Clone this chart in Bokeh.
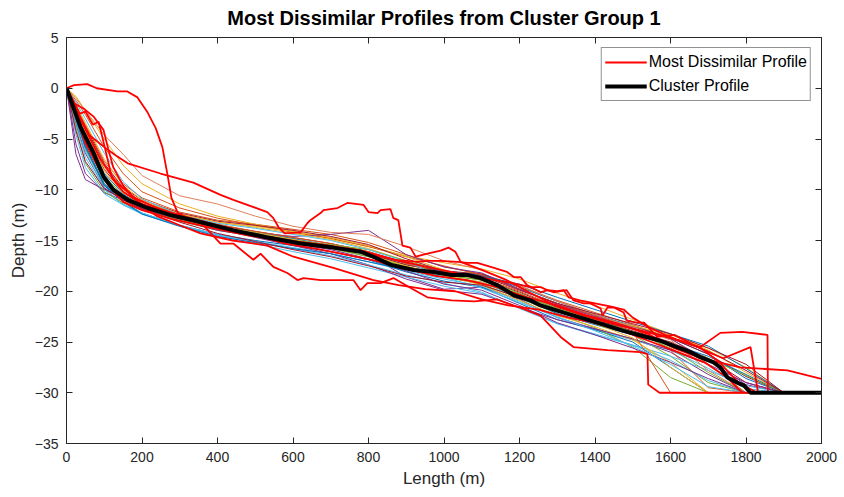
from bokeh.plotting import figure
from bokeh.models import LinearAxis, Range1d, FixedTicker, Legend, LegendItem
from bokeh.embed import file_html
from bokeh.resources import INLINE

# ---------------- data ----------------
x_ticks = [0, 200, 400, 600, 800, 1000, 1200, 1400, 1600, 1800, 2000]
y_ticks = [-35, -30, -25, -20, -15, -10, -5, 0, 5]

cluster_len = [0, 37, 72, 98, 124, 162, 215, 276, 336, 442, 532, 620, 707, 779, 813, 860, 920, 972,
               1020, 1062, 1097, 1141, 1185, 1229, 1256, 1317, 1388, 1476, 1566, 1653, 1679, 1714,
               1732, 1751, 1777, 1795, 1812, 2000]
cluster_depth = [0, -3.8, -6.4, -8.7, -10.0, -11.0, -11.8, -12.5, -13.0, -14.0, -14.7, -15.3, -15.7,
                 -16.1, -16.6, -17.4, -17.9, -18.1, -18.4, -18.4, -18.7, -19.4, -20.4, -20.9, -21.4,
                 -22.1, -22.9, -23.9, -24.8, -26.0, -26.5, -27.0, -27.5, -28.5, -29.0, -29.3, -30, -30]

# thin member profiles (shared length grid)
thin_len = [0, 25, 50, 100, 150, 200, 300, 400, 500, 600, 700, 800, 900, 1000, 1100, 1200, 1300,
            1400, 1500, 1600, 1700, 1800, 1900]
thin_01 = [0, -3.0, -5.6, -9.4, -11.0, -11.9, -13.0, -13.9, -14.5, -15.1, -15.6, -16.3, -17.4, -18.0, -18.4, -19.6, -21.0, -22.3, -23.4, -24.6, -26.2, -28.6, -30]
thin_02 = [0, -1.8, -3.6, -7.2, -9.4, -10.8, -12.2, -13.0, -13.4, -13.9, -14.4, -15.2, -16.4, -17.6, -18.3, -19.5, -20.9, -22.1, -23.3, -24.6, -27.2, -30, -30]
thin_03 = [0, -0.8, -2.2, -5.0, -7.6, -9.4, -11.4, -12.6, -13.4, -14.1, -14.8, -15.6, -16.5, -17.2, -17.8, -18.8, -20.2, -21.4, -22.8, -24.2, -25.8, -28.0, -30]
thin_04 = [0, -6.5, -9.0, -10.0, -10.6, -11.2, -12.4, -13.4, -14.2, -15.0, -15.6, -16.4, -18.6, -19.8, -19.6, -20.8, -22.6, -23.7, -24.7, -26.0, -28.2, -30, -30]
thin_05 = [0, -3.2, -6.0, -9.6, -11.0, -11.8, -12.9, -13.7, -14.3, -14.9, -15.5, -16.4, -17.6, -18.4, -18.9, -20.4, -22.0, -23.1, -24.3, -26.4, -29.0, -30, -30]
thin_06 = [0, -3.6, -6.8, -10.0, -11.5, -12.4, -13.6, -14.5, -15.1, -15.7, -16.3, -17.1, -18.0, -18.8, -19.5, -21.0, -22.6, -23.8, -24.8, -25.8, -27.6, -29.6, -30]
thin_07 = [0, -2.4, -4.4, -8.0, -10.2, -11.4, -12.6, -13.5, -14.1, -14.7, -15.3, -16.1, -17.2, -18.0, -18.3, -19.8, -21.2, -22.4, -23.5, -24.6, -26.2, -28.4, -30]
thin_08 = [0, -3.0, -5.8, -9.6, -11.2, -12.3, -13.5, -14.4, -15.0, -15.5, -16.1, -16.9, -18.1, -19.0, -19.6, -21.2, -22.8, -23.8, -25.0, -27.5, -30, -30, -30]
thin_09 = [0, -1.2, -2.6, -5.8, -8.4, -10.2, -11.8, -12.8, -13.5, -14.2, -14.8, -15.6, -16.6, -17.5, -18.4, -19.8, -21.2, -22.4, -23.6, -25.8, -29.5, -30, -30]
thin_10 = [0, -2.2, -4.2, -7.8, -10.0, -11.2, -12.4, -13.2, -13.6, -14.1, -14.7, -15.5, -16.6, -17.9, -18.9, -20.3, -21.7, -22.6, -23.4, -24.3, -25.6, -27.5, -30]
thin_11 = [0, -3.4, -6.4, -9.8, -11.0, -11.8, -12.8, -13.7, -14.2, -14.6, -14.4, -14.0, -16.4, -17.6, -18.2, -19.8, -21.3, -22.5, -23.6, -24.7, -26.8, -29.2, -30]
thin_12 = [0, -2.6, -4.8, -8.6, -10.6, -11.6, -12.8, -13.7, -14.4, -15.0, -15.7, -16.6, -17.7, -18.6, -19.3, -20.7, -22.2, -23.6, -25.5, -28.5, -30, -30, -30]
thin_13 = [0, -4.6, -7.8, -10.4, -11.5, -12.3, -13.5, -14.5, -15.3, -16.1, -16.8, -17.7, -18.6, -19.5, -20.2, -21.6, -23.2, -24.3, -25.3, -26.4, -27.8, -29.3, -30]
thin_14 = [0, -2.0, -3.8, -7.4, -9.8, -11.0, -12.3, -13.1, -13.5, -14.0, -14.6, -15.4, -16.8, -18.0, -18.8, -20.1, -21.6, -22.8, -23.9, -25.0, -26.6, -29.0, -30]
thin_15 = [0, -2.5, -4.6, -8.4, -10.4, -11.6, -12.8, -13.6, -14.2, -14.8, -15.5, -16.3, -17.2, -18.0, -18.5, -19.3, -20.6, -21.8, -23.0, -24.2, -25.4, -27.6, -30]
thin_16 = [0, -1.0, -2.2, -4.6, -6.5, -8.6, -10.6, -11.4, -12.6, -13.6, -14.2, -14.4, -15.6, -17.0, -17.9, -19.4, -21.0, -22.3, -23.5, -24.8, -27.8, -30, -30]
thin_17 = [0, -1.6, -3.4, -7.0, -9.6, -11.0, -12.4, -13.2, -13.7, -14.3, -14.9, -15.8, -17.0, -18.4, -19.4, -20.9, -22.4, -23.5, -24.8, -27.0, -30, -30, -30]
thin_18 = [0, -5.5, -8.4, -10.3, -11.0, -11.6, -12.8, -13.8, -14.7, -15.5, -16.3, -17.4, -18.8, -19.9, -20.3, -21.6, -22.8, -23.7, -24.7, -25.8, -27.2, -29.0, -30]
thin_19 = [0, -2.9, -5.3, -9.2, -10.9, -11.9, -13.1, -14.0, -14.6, -15.2, -15.8, -16.6, -17.6, -18.4, -18.9, -20.3, -21.7, -22.8, -24.0, -25.6, -28.0, -30, -30]
thin_20 = [0, -3.3, -6.2, -9.9, -11.4, -12.3, -13.5, -14.4, -15.1, -15.8, -16.5, -17.4, -18.4, -19.2, -20.1, -21.7, -23.2, -24.2, -25.3, -26.8, -28.8, -30, -30]
thin_21 = [0, -2.7, -5.0, -8.9, -10.7, -11.8, -12.9, -13.8, -14.4, -15.0, -15.6, -16.4, -17.4, -18.1, -18.5, -19.9, -21.2, -22.2, -23.2, -24.2, -25.6, -27.2, -30]
thin_22 = [0, -3.1, -5.8, -9.5, -11.2, -12.4, -13.6, -14.6, -15.2, -15.8, -16.3, -17.1, -17.9, -18.6, -19.1, -20.6, -22.2, -23.3, -24.3, -25.2, -26.4, -28.2, -30]
thin_23 = [0, -2.1, -4.0, -7.6, -9.9, -11.2, -12.5, -13.4, -14.1, -14.7, -15.3, -16.1, -17.3, -18.2, -18.7, -20.0, -21.5, -22.7, -24.0, -30, -30, -30, -30]
thin_24 = [0, -2.3, -4.3, -8.2, -10.3, -11.5, -12.7, -13.6, -14.2, -14.9, -15.5, -16.4, -17.5, -18.5, -19.1, -20.5, -21.9, -23.2, -24.6, -27.5, -30, -30, -30]
thin_25 = [0, -2.8, -5.2, -9.1, -10.8, -11.9, -13.0, -14.0, -14.6, -15.3, -15.9, -16.8, -18.0, -19.3, -19.9, -21.4, -23.1, -24.3, -25.6, -27.0, -28.6, -30, -30]
thin_26 = [0, -3.9, -7.4, -10.2, -11.3, -12.0, -13.0, -13.8, -14.4, -15.0, -15.4, -15.9, -17.0, -18.0, -18.8, -20.2, -21.8, -22.9, -24.0, -25.2, -26.6, -28.3, -30]
thin_27 = [0, -1.4, -3.0, -6.4, -9.2, -10.9, -12.5, -13.3, -13.8, -14.4, -15.0, -15.9, -17.1, -18.6, -19.7, -21.1, -22.5, -23.9, -25.4, -27.2, -29.4, -30, -30]
thin_28 = [0, -4.2, -7.2, -9.9, -11.0, -11.9, -13.2, -14.3, -15.1, -15.9, -16.6, -17.5, -18.5, -19.1, -19.4, -20.6, -21.9, -22.9, -23.7, -24.6, -25.9, -27.8, -30]

# most dissimilar profiles (red)
red_a_len = [0, 20, 55, 80, 135, 160, 188, 215, 236, 254, 268, 278, 295, 340, 420, 500, 580, 660, 740,
             820, 900, 980, 1060, 1140, 1220, 1300, 1380, 1460, 1540, 1610, 1680, 1740, 1785, 1910, 1997, 2000]
red_a_depth = [0, 0.3, 0.4, 0.0, -0.3, -0.3, -0.9, -2.4, -3.9, -5.8, -8.6, -10.8, -12.3, -13.1, -13.8,
               -14.5, -15.3, -15.8, -16.4, -17.0, -17.8, -18.5, -18.9, -19.6, -20.6, -21.4, -22.4, -23.2,
               -24.2, -25.6, -26.6, -27.1, -27.5, -27.8, -28.6, -28.6]

red_b_len = [0, 30, 60, 80, 100, 130, 162, 249, 336, 408, 442, 532, 548, 562, 578, 620, 638, 646, 673,
             681, 718, 744, 787, 800, 824, 832, 858, 866, 879, 890, 911, 925, 956, 991, 1012, 1030, 1044,
             1100, 1160, 1230, 1300, 1370, 1440, 1510, 1580, 1626, 1679, 1732, 1790, 1857, 1858]
red_b_depth = [0, -2.4, -4.6, -5.2, -5.8, -6.6, -7.4, -8.4, -9.3, -10.5, -11.0, -12.2, -12.8, -13.7,
               -14.3, -14.2, -13.3, -13.0, -12.3, -12.0, -11.8, -11.3, -11.5, -12.2, -12.3, -12.0, -11.9,
               -12.8, -13.0, -15.5, -15.7, -16.6, -16.3, -16.0, -15.7, -16.1, -17.1, -17.9, -18.8, -20.2,
               -21.5, -22.4, -23.1, -23.8, -24.4, -24.9, -25.5, -24.1, -24.0, -24.3, -30]

red_c_len = [0, 25, 55, 90, 130, 180, 240, 300, 355, 408, 442, 495, 514, 548, 585, 612, 628, 673, 760,
             779, 797, 832, 866, 913, 956, 1020, 1080, 1140, 1200, 1256, 1309, 1343, 1433, 1520, 1539,
             1541, 1571, 1812]
red_c_depth = [0, -2.2, -4.4, -7.0, -9.2, -10.8, -11.8, -12.5, -13.2, -15.3, -15.3, -16.9, -16.3, -17.6,
               -18.2, -18.9, -18.7, -18.9, -18.9, -19.9, -19.2, -19.2, -18.7, -19.7, -20.6, -20.9, -21.0,
               -20.8, -21.6, -22.4, -24.5, -25.5, -25.8, -26.0, -26.2, -29.2, -30, -30]

red_d_len = [0, 15, 35, 50, 70, 85, 100, 120, 150, 200, 260, 330, 400, 480, 560, 640, 720, 800, 870,
             930, 956, 991, 1036, 1062, 1088, 1115, 1141, 1167, 1185, 1203, 1220, 1256, 1274, 1290, 1325,
             1343, 1370, 1388, 1415, 1420, 1433, 1450, 1476, 1484, 1510, 1530, 1565, 1610, 1661, 1700,
             1740, 1812, 1832]
red_d_depth = [0, -1.0, -2.5, -2.3, -3.6, -3.3, -5.6, -8.8, -10.2, -11.4, -12.2, -12.8, -13.5, -14.3,
               -14.8, -15.3, -15.8, -16.3, -16.9, -17.1, -17.0, -17.0, -17.1, -17.2, -17.2, -17.5, -17.8,
               -18.1, -18.6, -18.6, -19.4, -20.1, -19.9, -20.1, -19.9, -20.9, -21.2, -21.2, -21.7, -22.4,
               -21.6, -21.6, -22.1, -22.9, -23.1, -23.1, -24.5, -24.3, -25.3, -26.0, -26.6, -25.5, -30]

red_e_len = [0, 20, 45, 72, 98, 110, 124, 150, 190, 240, 300, 355, 440, 532, 601, 707, 813, 880, 950,
             1030, 1100, 1170, 1250, 1330, 1410, 1480, 1550, 1620, 1690, 1750, 1790]
red_e_depth = [0, -1.5, -2.0, -2.8, -4.1, -5.9, -7.8, -9.6, -11.3, -12.6, -13.5, -14.3, -15.0, -15.5,
               -16.6, -17.7, -18.9, -19.4, -19.8, -20.0, -20.8, -21.4, -21.8, -22.6, -23.2, -24.0, -25.0,
               -26.0, -27.0, -28.5, -30]

red_f_len = [0, 25, 50, 80, 110, 150, 200, 280, 380, 480, 580, 680, 780, 880, 980, 1060, 1120, 1180,
             1230, 1256, 1274, 1300, 1317, 1330, 1360, 1400, 1440, 1476, 1500, 1540, 1580, 1620, 1680,
             1730, 1780, 1830]
red_f_depth = [0, -2.8, -5.4, -7.5, -9.5, -11.2, -12.0, -12.9, -13.7, -14.5, -15.0, -15.4, -16.0, -17.0,
               -17.8, -18.4, -18.8, -19.2, -19.6, -19.6, -19.9, -20.0, -19.9, -20.6, -20.9, -21.2, -21.5,
               -21.8, -22.6, -23.5, -24.2, -24.8, -25.6, -27.0, -29.0, -30]

matlab_colors = ["#0072BD", "#D95319", "#EDB120", "#7E2F8E", "#77AC30", "#4DBEEE", "#A2142F"]

FONT = "Liberation Sans"
TXT = "#262626"

# ---------------- figure ----------------
p = figure(width=844, height=497, x_range=Range1d(0, 2000), y_range=Range1d(-35, 5),
           output_backend="svg", toolbar_location=None,
           min_border_left=66, min_border_right=23, min_border_top=37, min_border_bottom=54)
p.background_fill_color = "white"
p.border_fill_color = "white"
p.outline_line_color = TXT
p.xgrid.visible = False
p.ygrid.visible = False

p.title.text = "Most Dissimilar Profiles from Cluster Group 1"
p.title.align = "center"
p.title.vertical_align = "top"
p.title.text_font = FONT
p.title.text_font_size = "20px"
p.title.text_font_style = "bold"
p.title.text_color = "black"
p.title.standoff = 13

thin_all = [thin_01, thin_02, thin_03, thin_04, thin_05, thin_06, thin_07, thin_08, thin_09, thin_10,
            thin_11, thin_12, thin_13, thin_14, thin_15, thin_16, thin_17, thin_18, thin_19, thin_20,
            thin_21, thin_22, thin_23, thin_24, thin_25, thin_26, thin_27, thin_28]
thin_colors = [matlab_colors[i % 7] for i in range(len(thin_all))]
thin_colors[15] = "#E0805A"
p.multi_line(xs=[thin_len] * len(thin_all), ys=thin_all, line_color=thin_colors, line_width=1.0)

red_sets = [(red_a_len, red_a_depth), (red_b_len, red_b_depth), (red_c_len, red_c_depth),
            (red_d_len, red_d_depth), (red_e_len, red_e_depth), (red_f_len, red_f_depth)]
red_renderers = []
for lx, ly in red_sets:
    red_renderers.append(p.line(lx, ly, line_color="#FF0000", line_width=1.8))

black_r = p.line(cluster_len, cluster_depth, line_color="black", line_width=4)

# ---------------- axes ----------------
def style_axis(ax, show_labels):
    ax.axis_line_color = TXT
    ax.major_tick_line_color = TXT
    ax.major_tick_in = 6
    ax.major_tick_out = 0
    ax.minor_tick_line_color = None
    ax.major_label_text_font = FONT
    if show_labels:
        ax.major_label_text_color = TXT
        ax.major_label_text_font_size = "14px"
        ax.major_label_standoff = 8
    else:
        ax.major_label_text_color = None
        ax.major_label_text_font_size = "1px"
        ax.major_label_standoff = 0

for ax in p.xaxis:
    ax.ticker = FixedTicker(ticks=x_ticks)
    style_axis(ax, True)
    ax.axis_label = "Length (m)"
for ax in p.yaxis:
    ax.ticker = FixedTicker(ticks=y_ticks)
    style_axis(ax, True)
    ax.axis_label = "Depth (m)"
for ax in list(p.xaxis) + list(p.yaxis):
    ax.axis_label_text_font = FONT
    ax.axis_label_text_font_size = "17px"
    ax.axis_label_text_font_style = "normal"
    ax.axis_label_text_color = TXT
    ax.axis_label_standoff = 4

top_ax = LinearAxis(ticker=FixedTicker(ticks=x_ticks))
style_axis(top_ax, False)
p.add_layout(top_ax, "above")
right_ax = LinearAxis(ticker=FixedTicker(ticks=y_ticks))
style_axis(right_ax, False)
p.add_layout(right_ax, "right")

# ---------------- legend ----------------
legend = Legend(items=[LegendItem(label="Most Dissimilar Profile", renderers=[red_renderers[0]]),
                       LegendItem(label="Cluster Profile", renderers=[black_r])],
                location="top_right")
legend.margin = 10
legend.padding = 3
legend.spacing = 2
legend.glyph_width = 42
legend.glyph_height = 22
legend.label_height = 22
legend.label_standoff = 2
legend.label_text_font = FONT
legend.label_text_font_size = "16px"
legend.label_text_color = "black"
legend.border_line_color = TXT
legend.border_line_width = 1
legend.background_fill_color = "white"
legend.background_fill_alpha = 1
p.add_layout(legend)

open("out.html", "w").write(file_html(p, INLINE))
